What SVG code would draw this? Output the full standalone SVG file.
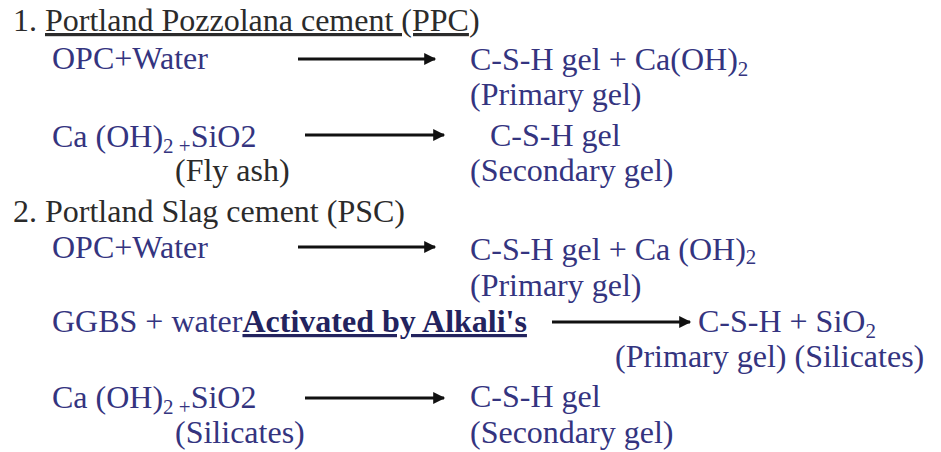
<svg xmlns="http://www.w3.org/2000/svg" width="941" height="452" viewBox="0 0 941 452" font-family="Liberation Serif, Times New Roman, serif">
<defs>
<style>
.k{fill:#2b2b2b}
.b{fill:#34347f}
.bb{fill:#23235e;font-weight:bold}
.sub{font-size:21px}
.u{text-decoration:underline}
.arr{stroke:#111;stroke-width:3;fill:none;marker-end:url(#ah)}
</style>
<marker id="ah" viewBox="0 0 10 10" refX="9" refY="5" markerWidth="5" markerHeight="4" markerUnits="strokeWidth" orient="auto">
<path d="M0,0 L10,5 L0,10 z" fill="#111"/>
</marker>
</defs>
<rect width="941" height="452" fill="#fff"/>
<g id="connectors">
<line class="arr" x1="298" y1="59" x2="435" y2="59"/>
<line class="arr" x1="305" y1="135" x2="444" y2="135"/>
<line class="arr" x1="298" y1="247" x2="435" y2="247"/>
<line class="arr" x1="552" y1="322" x2="690" y2="322"/>
<line class="arr" x1="305" y1="398" x2="444" y2="398"/>
</g>
<g id="ppc-title"><text class="k" font-family="Liberation Serif" font-size="32" x="13" y="31">1. <tspan class="u">Portland Pozzolana cement (PPC</tspan>)</text></g>
<g id="ppc-r1-in"><text class="b" font-family="Liberation Serif" font-size="32" x="52" y="69">OPC+Water</text></g>
<g id="ppc-r1-out"><text class="b" font-family="Liberation Serif" font-size="32" x="470" y="70">C-S-H gel + Ca(OH)<tspan class="sub" dy="6">2</tspan></text>
<text class="b" font-family="Liberation Serif" font-size="32" x="470" y="105">(Primary gel)</text></g>
<g id="ppc-r2-in"><text class="b" font-family="Liberation Serif" font-size="32" x="52" y="147">Ca (OH)<tspan class="sub" dy="6">2 +</tspan><tspan dy="-6">SiO2</tspan></text>
<text class="k" font-family="Liberation Serif" font-size="32" x="175" y="181">(Fly ash)</text></g>
<g id="ppc-r2-out"><text class="b" font-family="Liberation Serif" font-size="32" x="490" y="146">C-S-H gel</text>
<text class="b" font-family="Liberation Serif" font-size="32" x="470" y="181">(Secondary gel)</text></g>
<g id="psc-title"><text class="k" font-family="Liberation Serif" font-size="32" x="13" y="222">2. Portland Slag cement (PSC)</text></g>
<g id="psc-r1-in"><text class="b" font-family="Liberation Serif" font-size="32" x="52" y="258">OPC+Water</text></g>
<g id="psc-r1-out"><text class="b" font-family="Liberation Serif" font-size="32" x="470" y="260">C-S-H gel + Ca (OH)<tspan class="sub" dy="4">2</tspan></text>
<text class="b" font-family="Liberation Serif" font-size="32" x="470" y="296">(Primary gel)</text></g>
<g id="psc-r2-in"><text class="b" font-family="Liberation Serif" font-size="32" x="52" y="332">GGBS + water<tspan class="bb u">Activated by Alkali's</tspan></text></g>
<g id="psc-r2-out"><text class="b" font-family="Liberation Serif" font-size="32" x="698" y="332">C-S-H + SiO<tspan class="sub" dy="6">2</tspan></text>
<text class="b" font-family="Liberation Serif" font-size="32" x="615" y="367">(Primary gel) (Silicates)</text></g>
<g id="psc-r3-in"><text class="b" font-family="Liberation Serif" font-size="32" x="52" y="408">Ca (OH)<tspan class="sub" dy="6">2 +</tspan><tspan dy="-6">SiO2</tspan></text>
<text class="b" font-family="Liberation Serif" font-size="32" x="175" y="443">(Silicates)</text></g>
<g id="psc-r3-out"><text class="b" font-family="Liberation Serif" font-size="32" x="470" y="407">C-S-H gel</text>
<text class="b" font-family="Liberation Serif" font-size="32" x="470" y="443">(Secondary gel)</text></g>
</svg>
